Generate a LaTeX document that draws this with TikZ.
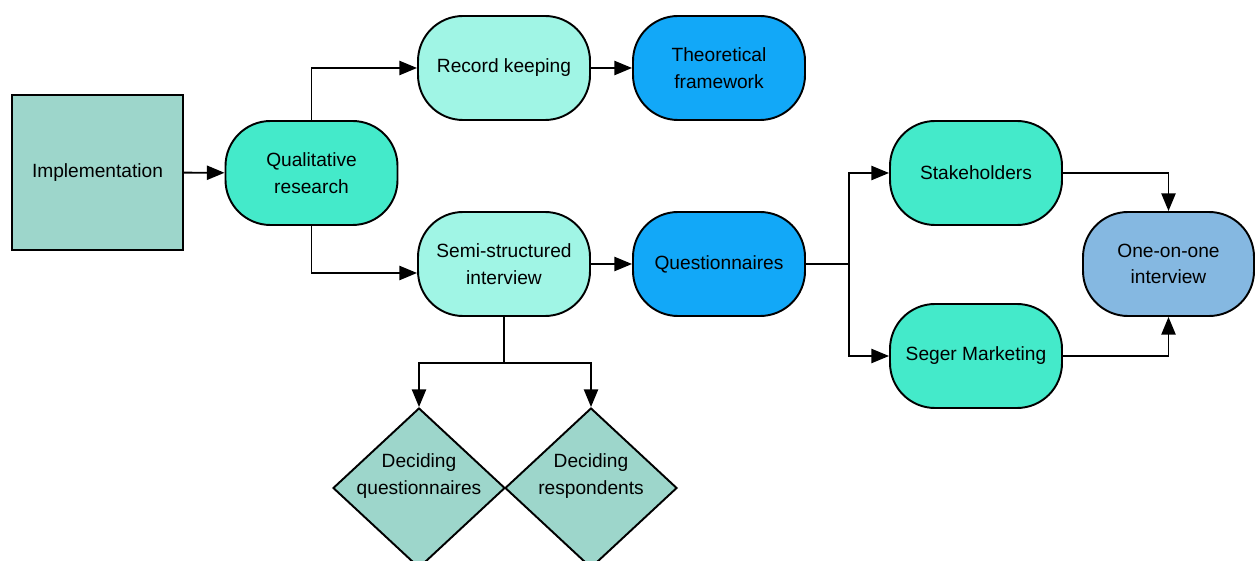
\documentclass[tikz,border=0pt]{standalone}
\usepackage{fontspec}
\setmainfont{Liberation Sans}
\usepackage{tikz}
\usetikzlibrary{shapes.geometric,arrows.meta,calc}
\definecolor{implfill}{RGB}{157,214,203}
\definecolor{greenfill}{RGB}{68,234,202}
\definecolor{palefill}{RGB}{160,245,229}
\definecolor{bluefill}{RGB}{18,168,248}
\definecolor{skyfill}{RGB}{133,184,225}
\tikzstyle{line} = [draw, line width=1.1pt, -{Triangle[length=10pt,width=8pt]}]
\tikzstyle{plain} = [draw, line width=1.1pt]
\tikzstyle{block} = [draw, line width=1.1pt, rectangle, text centered, align=center, minimum width=3.42cm, minimum height=3.1cm, fill=implfill]
\tikzstyle{pill} = [draw, line width=1.1pt, rectangle, rounded corners=0.9cm, text centered, align=center, minimum width=3.44cm, minimum height=2.08cm]
\tikzstyle{decision} = [draw, line width=1.1pt, diamond, aspect=1.075, inner sep=0pt, minimum width=3.44cm, minimum height=3.2cm, fill=implfill]
\tikzstyle{decisiontext} = [align=center, yshift=0.24cm]

\begin{document}
\begin{tikzpicture}[font=\fontsize{10.9}{15}\selectfont]
        \useasboundingbox (0,0) rectangle (25.12,11.2);
        \node[block] (impl) at (1.95,7.75) {Implementation};
        \node[pill, fill=greenfill] (qual) at (6.23,7.74) {Qualitative\\research};
        \node[pill, fill=palefill] (record) at (10.08,9.84) {Record keeping};
        \node[pill, fill=bluefill] (theory) at (14.38,9.84) {Theoretical\\framework};
        \node[pill, fill=palefill] (semi) at (10.08,5.92) {Semi-structured\\interview};
        \node[pill, fill=bluefill] (quest) at (14.38,5.92) {Questionnaires};
        \node[pill, fill=greenfill] (stake) at (19.52,7.74) {Stakeholders};
        \node[pill, fill=greenfill] (seger) at (19.52,4.08) {Seger Marketing};
        \node[pill, fill=skyfill, minimum width=3.42cm] (oneone) at (23.37,5.92) {One-on-one\\interview};
        \node[decision, label={[decisiontext]center:Deciding\\questionnaires}] (decq) at (8.38,1.44) {};
        \node[decision, label={[decisiontext]center:Deciding\\respondents}] (decr) at (11.82,1.44) {};
        \coordinate (semiin) at ($(semi.west)+(0,-0.18)$);
        \coordinate (split) at ($(quest.east)+(0.86,0)$);
        \coordinate (fork) at ($(semi.south)+(0,-0.92)$);
        \path[line] (impl) -- (qual);
        \path[line] (qual.north) |- (record.west);
        \path[line] (qual.south) |- (semiin);
        \path[line] (record) -- (theory);
        \path[line] (semi) -- (quest);
        \path[plain] (quest.east) -- (split);
        \path[line] (split) |- (stake.west);
        \path[line] (split) |- (seger.west);
        \path[line] (stake.east) -| (oneone.north);
        \path[line] (seger.east) -| (oneone.south);
        \path[plain] (semi.south) -- (fork);
        \path[line] (fork) -| (decq.north);
        \path[line] (fork) -| (decr.north);
    \end{tikzpicture}
\end{document}
